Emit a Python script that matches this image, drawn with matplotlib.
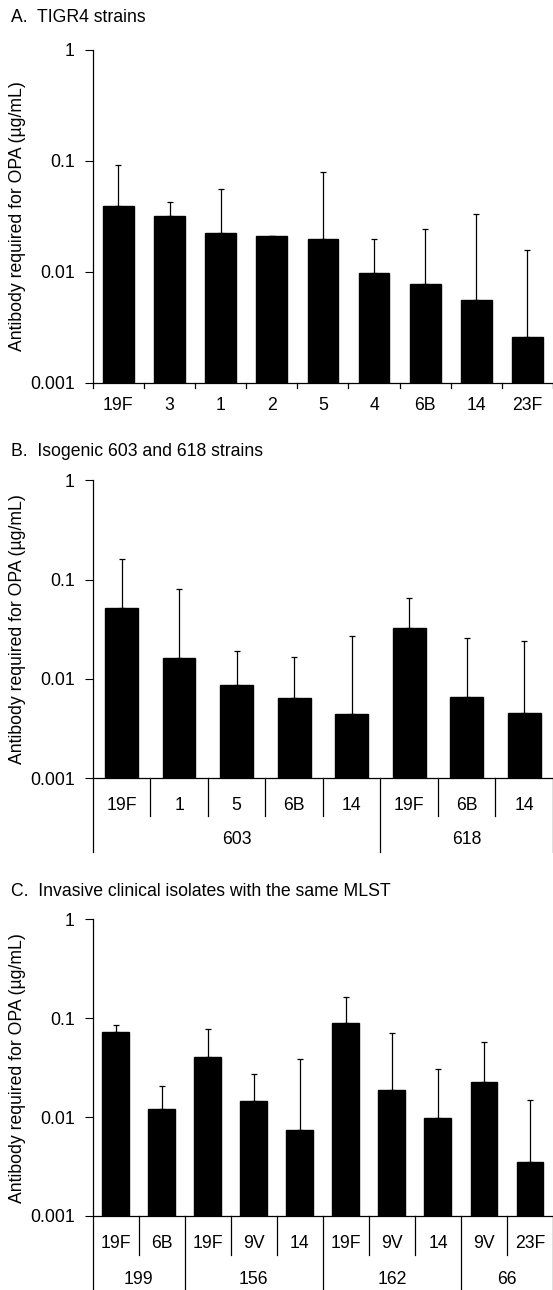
import numpy as np
import matplotlib
matplotlib.use("Agg")
from matplotlib import pyplot as plt
from matplotlib.transforms import blended_transform_factory

plt.rcParams["font.family"] = ["Liberation Sans", "DejaVu Sans"]
plt.rcParams["font.size"] = 12.7

# Panel A: TIGR4 strains
a_labels = ["19F", "3", "1", "2", "5", "4", "6B", "14", "23F"]
a_mean = [0.0388, 0.0318, 0.0221, 0.0208, 0.0196, 0.0098, 0.0077, 0.0055, 0.00258]
a_upper = [0.0908, 0.0424, 0.0552, 0.0209, 0.079, 0.0198, 0.0244, 0.0333, 0.0158]

# Panel B: isogenic 603 and 618 strains
b_labels = ["19F", "1", "5", "6B", "14", "19F", "6B", "14"]
b_groups = ["603", "618"]
b_group_sizes = [5, 3]
b_mean = [0.0516, 0.0162, 0.0086, 0.00642, 0.0044, 0.0327, 0.00652, 0.00454]
b_upper = [0.160, 0.080, 0.0192, 0.0165, 0.0268, 0.0656, 0.0256, 0.0239]

# Panel C: invasive clinical isolates with the same MLST
c_labels = ["19F", "6B", "19F", "9V", "14", "19F", "9V", "14", "9V", "23F"]
c_groups = ["199", "156", "162", "66"]
c_group_sizes = [2, 3, 3, 2]
c_mean = [0.0718, 0.0122, 0.0402, 0.0146, 0.00734, 0.0891, 0.0187, 0.00977, 0.0227, 0.0035]
c_upper = [0.0857, 0.0207, 0.0775, 0.0273, 0.039, 0.164, 0.0706, 0.0309, 0.0569, 0.0149]

W, H = 553, 1290
fig = plt.figure(figsize=(W / 100, H / 100), dpi=100)

def fy(p):
    # pixel row -> figure fraction
    return 1 - p / H

def panel(top, bottom, title, title_y, labels, mean, upper, bar_w,
          lab_y, sep_to=None, groups=None, sizes=None, grp_y=None, grp_to=None):
    left = 92.8 / W
    ax = fig.add_axes([left, fy(bottom), 1 - left, (bottom - top) / H])
    n = len(labels)
    x = np.arange(n)
    mean = np.array(mean)
    upper = np.array(upper)
    ax.bar(x, mean, width=bar_w, color="black", edgecolor="black", zorder=2)
    ax.errorbar(x, mean, yerr=[np.zeros(n), upper - mean], fmt="none",
                ecolor="black", elinewidth=0.9, capsize=2.3, capthick=0.9, zorder=1)
    ax.set_yscale("log")
    ax.set_ylim(0.001, 1)
    ax.set_xlim(-0.5, n - 0.5)
    ax.set_yticks([0.001, 0.01, 0.1, 1])
    ax.set_yticklabels(["0.001", "0.01", "0.1", "1"])
    ax.yaxis.set_minor_locator(matplotlib.ticker.NullLocator())
    ax.tick_params(axis="y", direction="out", length=6, width=0.8, pad=7)
    ax.set_xticks([])
    for s in ["top", "right"]:
        ax.spines[s].set_visible(False)
    for s in ["left", "bottom"]:
        ax.spines[s].set_linewidth(0.9)
    ax.set_ylabel("Antibody required for OPA (µg/mL)")
    # right edge of the rotated label at about 26.5 px
    ax.yaxis.set_label_coords((26.5 / W - left) / (1 - left), 0.5)

    tr = blended_transform_factory(ax.transData, fig.transFigure)
    fig.text(11 / W, fy(title_y), title, ha="left", va="center")
    for i, lab in enumerate(labels):
        ax.text(i, fy(lab_y), lab, transform=tr, ha="center", va="center")

    if sep_to is None:
        # short ticks at category boundaries
        for b in np.arange(n + 1) - 0.5:
            ax.plot([b, b], [fy(bottom), fy(bottom + 5)], transform=tr,
                    color="black", lw=0.9, clip_on=False)
    else:
        edges = np.cumsum([0] + sizes) - 0.5
        for b in np.arange(n + 1) - 0.5:
            end = grp_to if b in edges else sep_to
            ax.plot([b, b], [fy(bottom), fy(end)], transform=tr,
                    color="black", lw=0.9, clip_on=False)
        for g, lo, hi in zip(groups, edges[:-1], edges[1:]):
            ax.text((lo + hi) / 2, fy(grp_y), g, transform=tr, ha="center", va="center")
    return ax

panel(49.5, 382.7, "A.  TIGR4 strains", 17.7, a_labels, a_mean, a_upper, 0.6, 405)
panel(480.3, 778.3, "B.  Isogenic 603 and 618 strains", 451.7, b_labels, b_mean, b_upper,
      0.57, 805, sep_to=815.5, groups=b_groups, sizes=b_group_sizes, grp_y=840, grp_to=852)
panel(919.3, 1216, "C.  Invasive clinical isolates with the same MLST", 891.7, c_labels,
      c_mean, c_upper, 0.585, 1243.3, sep_to=1254.5, groups=c_groups, sizes=c_group_sizes,
      grp_y=1279, grp_to=1290)

fig.savefig("out.png", dpi=100)
